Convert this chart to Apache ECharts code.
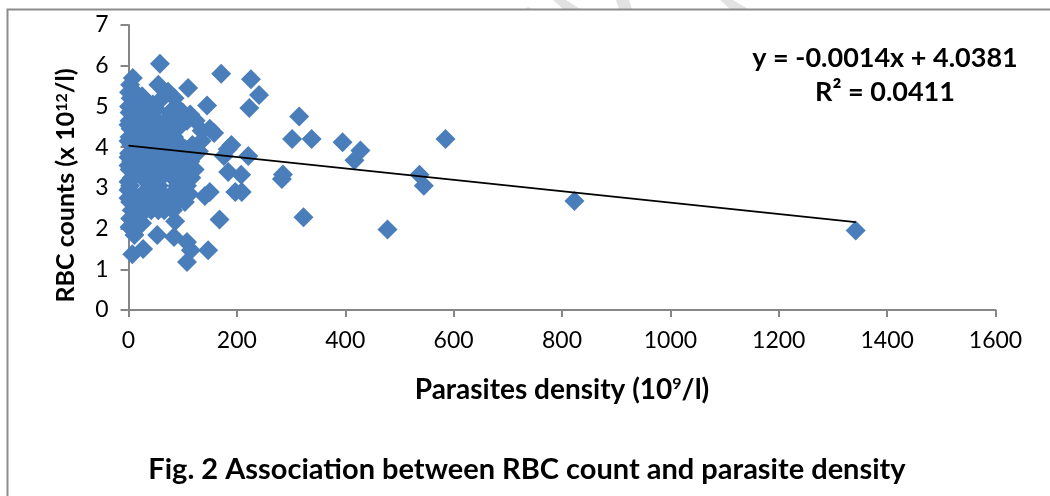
<!DOCTYPE html>
<html><head><meta charset="utf-8">
<style>html,body{margin:0;padding:0;background:#fff}#c{width:1050px;height:496px}</style>
<script src="https://cdn.jsdelivr.net/npm/echarts@6/dist/echarts.min.js"></script>
</head><body><div id="c"></div>
<script>
const xTicks = [0,200,400,600,800,1000,1200,1400,1600];
const yTicks = [0,1,2,3,4,5,6,7];
const outliers = [[1342,1.95],[823,2.68],[585,4.2],[545,3.05],[537,3.32],[478,1.98],[428,3.92],[417,3.68],[395,4.12],[338,4.2],[323,2.28],[315,4.75],[302,4.2],[285,3.33],[283,3.22],[241,5.28],[226,5.67],[223,4.96],[221,3.78],[171,5.8],[168,2.22],[145,5.02],[110,5.45],[58,6.05],
[150,2.9],[141,2.8],[184,3.39],[208,3.32],[197,2.9],[209,2.9],[147,1.47],[108,1.18],[115,1.47],[108,1.67],[84,1.79],[53,1.84],[27,1.5],[7,1.37],[11,1.84],[2,2.04],[25,2.13],[86,2.18],[8,5.7],[3,5.53],[55,5.53],[73,5.36],[114,4.8],[150,4.45],[158,4.35],[135,4.15],[190,4.05],[183,3.95],[176,3.78],[130,3.9]];
const cloud = [
[12,5.35],[25,5.25],[4,5.2],[62,5.2],[85,5.2],[1,5.0],[14,5.0],[34,5.0],[45,5.05],[50,4.95],[88,5.0],
[8,4.85],[26,4.85],[44,4.85],[76,4.85],[100,4.85],[2,4.65],[18,4.65],[36,4.65],[54,4.65],[70,4.65],[88,4.65],[108,4.65],[124,4.65],
[4,4.45],[22,4.45],[40,4.45],[58,4.45],[76,4.45],[90,4.45],[135,4.4],[2,4.25],[16,4.25],[34,4.25],[50,4.25],[68,4.25],[84,4.25],
[5,4.05],[24,4.05],[42,4.05],[60,4.05],[78,4.05],[96,4.05],[118,4.05],[1,3.85],[16,3.85],[34,3.85],[52,3.85],[70,3.85],[88,3.85],[106,3.85],
[5,3.65],[24,3.65],[42,3.65],[60,3.65],[78,3.65],[96,3.65],[114,3.65],[2,3.45],[16,3.45],[34,3.45],[52,3.45],[70,3.45],[88,3.45],[106,3.45],[122,3.45],
[6,3.25],[26,3.25],[44,3.25],[60,3.25],[82,3.25],[100,3.25],[116,3.25],[3,3.05],[42,3.05],[56,3.05],[90,3.05],[108,3.05],
[8,2.85],[26,2.85],[44,2.85],[62,2.85],[80,2.85],[98,2.85],[112,2.85],[3,2.65],[18,2.65],[36,2.65],[54,2.65],[72,2.65],[90,2.65],[104,2.65],
[6,2.45],[24,2.45],[42,2.45],[66,2.45],[82,2.45],[3,2.25],[20,2.3],[14,2.05],
[1,5.35],[2,4.85],[0,4.55],[0,4.15],[0,3.75],[0,3.55],[0,3.15],[0,2.95],[0,2.75],
[13,4.55],[31,4.55],[49,4.55],[67,4.55],[83,4.55],[15,4.15],[33,4.15],[51,4.15],[69,4.15],[87,4.15],
[13,3.95],[33,3.95],[51,3.95],[69,3.95],[87,3.95],[105,3.95],[13,3.55],[33,3.55],[51,3.55],[69,3.55],[87,3.55],[105,3.55],
[15,2.75],[35,2.75],[53,2.75],[71,2.75],[89,2.75],[33,2.55],[55,2.45],[74,2.55]];
const trendX = [0,1342];
const trendY = [4.0381,2.16];
const pts = outliers.concat(cloud);
const chart = echarts.init(document.getElementById('c'),null,{renderer:'canvas'});
const F='Lato, "Open Sans", sans-serif';
const water='#e2e2e2';
const sup={fontFamily:F,fontWeight:'bold',fontSize:16,color:'#000',verticalAlign:'top',lineHeight:16,padding:[0,0,12,0]};
chart.setOption({
 animation:false,
 backgroundColor:'#fff',
 grid:{left:128.5,right:1050-995.5,top:25,bottom:496-310,containLabel:false},
 title:{text:'Fig. 2 Association between RBC count and parasite density',left:522,top:450,textAlign:'center',textStyle:{fontFamily:F,fontWeight:'bold',fontSize:29,color:'#000'}},
 xAxis:{type:'value',min:0,max:1600,interval:200,splitLine:{show:false},
  axisLine:{onZero:false,lineStyle:{color:'#868686',width:2}},axisTick:{show:true,length:7,lineStyle:{color:'#868686',width:2}},
  axisLabel:{fontFamily:F,fontSize:23,color:'#000',margin:19,formatter:v=>xTicks.includes(v)?String(v):''},
  name:'{a|Parasites density (10}{s|9}{a|/l)}',nameLocation:'middle',nameGap:66,
  nameTextStyle:{rich:{a:{fontFamily:F,fontWeight:'bold',fontSize:28,color:'#000'},s:sup}}},
 yAxis:{type:'value',min:0,max:7,interval:1,splitLine:{show:false},
  axisLine:{onZero:false,lineStyle:{color:'#868686',width:2}},axisTick:{show:true,length:8,lineStyle:{color:'#868686',width:2}},
  axisLabel:{fontFamily:F,fontSize:23,color:'#000',margin:20,formatter:v=>yTicks.includes(v)?String(v):''},
  name:'{a|RBC counts (x 10}{s|12}{a|/l)}',nameLocation:'middle',nameGap:50,
  nameTextStyle:{padding:[0,36,0,0],rich:{a:{fontFamily:F,fontWeight:'bold',fontSize:25,color:'#000'},s:sup}}},
 series:[
  {type:'scatter',data:pts,symbol:'diamond',symbolSize:20,itemStyle:{color:'#4A7EBB',opacity:1},silent:true,clip:false},
  {type:'line',data:trendX.map((x,i)=>[x,trendY[i]]),symbol:'none',lineStyle:{color:'#000',width:1.8},silent:true,z:5}
 ],
 graphic:[
  {type:'polygon',shape:{points:[[525,9],[532,9],[528,7]]},style:{fill:water},silent:true},
  {type:'polygon',shape:{points:[[553,0],[566,0],[580,9],[563,9]]},style:{fill:water},silent:true},
  {type:'polygon',shape:{points:[[616,0],[629,0],[632,9],[619,9]]},style:{fill:water},silent:true},
  {type:'polygon',shape:{points:[[720,0],[733,0],[748,9],[730,9]]},style:{fill:water},silent:true},
  {type:'polyline',shape:{points:[[7.5,496],[7.5,9.5],[1050,9.5]]},style:{stroke:'#8c8c8c',lineWidth:2,fill:null},silent:true},
  {type:'text',style:{x:885,y:58,text:'y = -0.0014x + 4.0381',align:'center',verticalAlign:'middle',fontFamily:F,fontWeight:'bold',fontSize:27,fill:'#000'},silent:true},
  {type:'text',style:{x:885,y:92,text:'R² = 0.0411',align:'center',verticalAlign:'middle',fontFamily:F,fontWeight:'bold',fontSize:27,fill:'#000'},silent:true}
 ]
});
</script></body></html>
